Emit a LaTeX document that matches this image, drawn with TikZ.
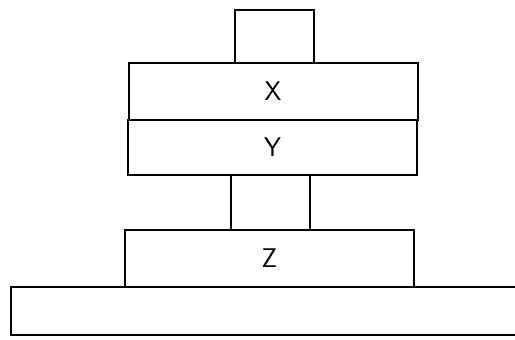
\documentclass[tikz,border=0pt]{standalone}
\usepackage{tikz}
\usetikzlibrary{positioning}

\tikzset{
  blocco/.style={draw, line width=2pt, inner sep=0pt, minimum width=289pt, minimum height=56pt,
    font=\sffamily\fontsize{27}{29}\selectfont},
  perno/.style={draw, line width=2pt, inner sep=0pt, minimum width=79pt, minimum height=54pt}
}

\begin{document}
\begin{tikzpicture}[x=1pt,y=-1pt]
  \useasboundingbox (0,0) rectangle (515,340);

  % base
  \node[draw, line width=2pt, inner sep=0pt, minimum width=505pt, minimum height=48pt] (base) at (263.5,311) {};

  % Z
  \node[blocco, minimum height=57pt] (Z) at (269.5,258.5) {Z};

  % perno centrale
  \node[perno, minimum height=55pt] (perno) at (270.5,202.5) {};

  % X e Y
  \node[blocco, minimum height=55pt] (Y) at (272.5,147.5) {Y};
  \node[blocco, minimum height=57pt] (X) at (273,91.5) {X};

  % blocchetto in alto
  \node[perno, minimum height=53pt] (cima) at (274.5,36.5) {};
\end{tikzpicture}
\end{document}
